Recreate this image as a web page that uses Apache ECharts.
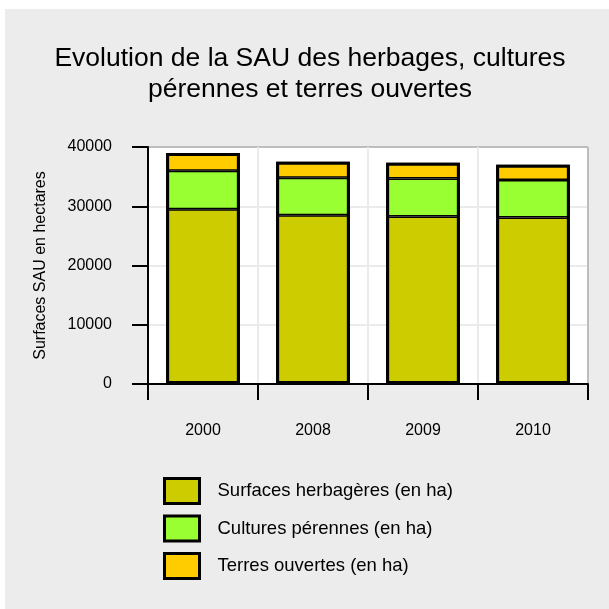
<!DOCTYPE html>
<html><head><meta charset="utf-8">
<script src="https://cdn.jsdelivr.net/npm/echarts@6/dist/echarts.min.js"></script>
<style>html,body{margin:0;padding:0;background:#fff}#c{width:609px;height:609px}</style>
</head><body><div id="c"></div>
<script>
const categories = ['2000', '2008', '2009', '2010'];
const herbageres = [29500, 28500, 28250, 28100];
const perennes = [6500, 6300, 6450, 6350];
const ouvertes = [3000, 2700, 2650, 2550];
const seriesNames = ['Surfaces herbagères (en ha)', 'Cultures pérennes (en ha)', 'Terres ouvertes (en ha)'];
const colors = ['#cccc00', '#99ff33', '#ffcc00'];
const yTicks = [0, 10000, 20000, 30000, 40000];

const totals = categories.map((_, i) => herbageres[i] + perennes[i] + ouvertes[i]);

const chart = echarts.init(document.getElementById('c'), null, {renderer: 'canvas'});
const font = 'Liberation Sans, Arial, sans-serif';
const mk = (name, data, color) => ({
  name, type: 'bar', stack: 'total', data, barWidth: '67%', barGap: '-100%',
  itemStyle: {color, borderColor: '#000', borderWidth: 1.5},
  emphasis: {disabled: true}
});
chart.setOption({
  backgroundColor: '#fff',
  animation: false,
  graphic: [{type: 'rect', z: -10, shape: {x: 5, y: 9, width: 604, height: 600}, style: {fill: '#ececec'}, silent: true}],
  title: {
    text: 'Evolution de la SAU des herbages, cultures\npérennes et terres ouvertes',
    left: 310, top: 43, padding: 0, textAlign: 'center',
    textStyle: {fontFamily: font, fontSize: 26.5, fontWeight: 'normal', color: '#000', lineHeight: 31}
  },
  legend: {
    orient: 'vertical', left: 163, top: 477, padding: 0,
    itemWidth: 35, itemHeight: 25, itemGap: 9.5,
    icon: 'rect',
    data: seriesNames,
    itemStyle: {borderColor: '#000', borderWidth: 3},
    textStyle: {fontFamily: font, fontSize: 18.5, color: '#000', padding: [0, 0, 0, 13]},
    selectedMode: false
  },
  grid: {left: 148, top: 147, right: 21, bottom: 225, show: true, backgroundColor: '#fff', borderWidth: 0, containLabel: false},
  xAxis: {
    type: 'category', data: categories,
    axisLine: {lineStyle: {color: '#000', width: 2}},
    axisTick: {show: true, length: 16, lineStyle: {color: '#000', width: 2}, alignWithLabel: false},
    axisLabel: {fontFamily: font, fontSize: 16, color: '#000', margin: 39},
    splitLine: {show: true, lineStyle: {color: ['#ebebeb', '#ebebeb', '#ebebeb', '#ebebeb', '#bdbdbd'], width: 2}}
  },
  yAxis: {
    type: 'value', min: yTicks[0], max: yTicks[yTicks.length - 1], interval: yTicks[1] - yTicks[0],
    name: 'Surfaces SAU en hectares', nameLocation: 'middle', nameGap: 99,
    nameTextStyle: {fontFamily: font, fontSize: 16, color: '#000'},
    axisLine: {show: true, lineStyle: {color: '#000', width: 2}},
    axisTick: {show: true, length: 16, lineStyle: {color: '#000', width: 2}},
    axisLabel: {fontFamily: font, fontSize: 16, color: '#000', margin: 36, formatter: v => String(v)},
    splitLine: {show: true, lineStyle: {color: ['#ebebeb', '#ebebeb', '#ebebeb', '#ebebeb', '#bdbdbd'], width: 2}}
  },
  series: [
    mk(seriesNames[0], herbageres, colors[0]),
    mk(seriesNames[1], perennes, colors[1]),
    mk(seriesNames[2], ouvertes, colors[2]),
    {name: 'outline', type: 'bar', data: totals, barWidth: '67%', barGap: '-100%', z: 3,
     itemStyle: {color: 'rgba(0,0,0,0)', borderColor: '#000', borderWidth: 3},
     emphasis: {disabled: true}, silent: true}
  ]
});
</script></body></html>
